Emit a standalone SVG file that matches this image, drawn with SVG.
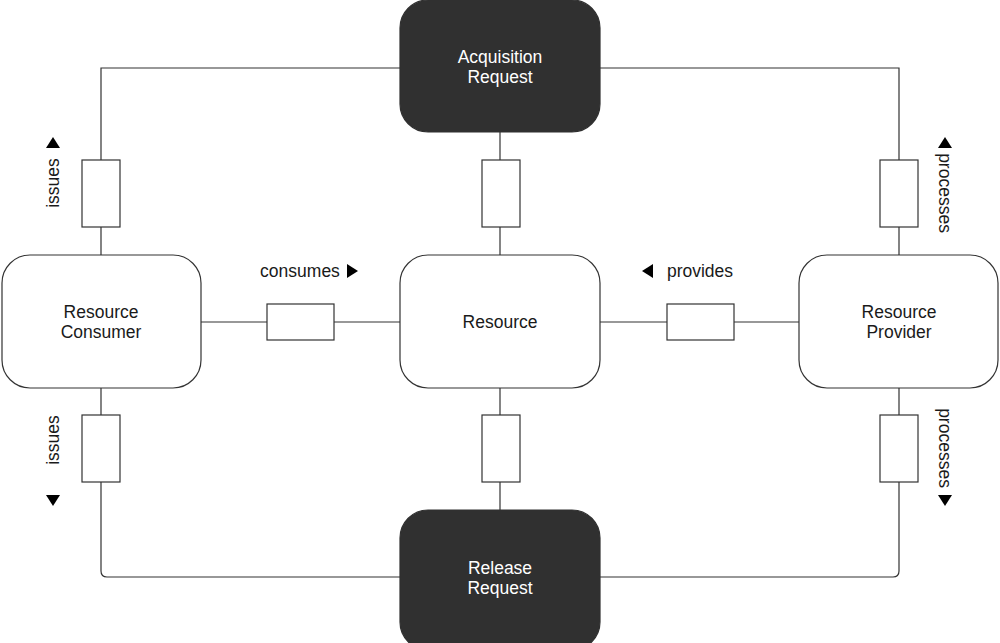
<svg xmlns="http://www.w3.org/2000/svg" width="1000" height="643" viewBox="0 0 1000 643">
<style>
.node{fill:#fff;stroke:#333;stroke-width:1.2}
.dark{fill:#303030;stroke:#303030;stroke-width:1.2}
.port{fill:#fff;stroke:#333;stroke-width:1.2}
.ln{fill:none;stroke:#333;stroke-width:1.2}
.t{font-family:"Liberation Sans",Arial,sans-serif;font-size:17.5px;fill:#1a1a1a;text-anchor:middle;dominant-baseline:central}
.tw{fill:#fff}
.tri{fill:#000}
</style>
<rect width="1000" height="643" fill="#fff"/>
<g id="connectors">
<path class="ln" d="M400,68 H101 V255"/>
<path class="ln" d="M600,68 H899 V255"/>
<path class="ln" d="M500,132 V255"/>
<path class="ln" d="M101,388 V571 Q101,577 107,577 H400"/>
<path class="ln" d="M899,388 V571 Q899,577 893,577 H600"/>
<path class="ln" d="M500,388 V510"/>
<path class="ln" d="M201,322 H400"/>
<path class="ln" d="M600,322 H799"/>
<rect class="port" x="82" y="160" width="38" height="67"/>
<rect class="port" x="482" y="160" width="38" height="67"/>
<rect class="port" x="880" y="160" width="38" height="67"/>
<rect class="port" x="82" y="415" width="38" height="67"/>
<rect class="port" x="482" y="415" width="38" height="67"/>
<rect class="port" x="880" y="415" width="38" height="67"/>
<rect class="port" x="267" y="304" width="67" height="36"/>
<rect class="port" x="667" y="304" width="67" height="36"/>
<text class="t" transform="translate(53,183) rotate(-90)">issues</text>
<polygon class="tri" points="46,148 60,148 53,137"/>
<text class="t" transform="translate(53,440) rotate(-90)">issues</text>
<polygon class="tri" points="46,495 60,495 53,506"/>
<text class="t" transform="translate(945,193) rotate(90)">processes</text>
<polygon class="tri" points="938,148 952,148 945,137"/>
<text class="t" transform="translate(945,448) rotate(90)">processes</text>
<polygon class="tri" points="938,495 952,495 945,506"/>
<text class="t" x="300" y="271">consumes</text>
<polygon class="tri" points="347,264 347,278 358,271"/>
<text class="t" x="700" y="271">provides</text>
<polygon class="tri" points="653,264 653,278 642,271"/>
</g>
<g id="acquisition-request">
<rect class="dark" x="400" y="0" width="200" height="132" rx="28"/>
<text class="t tw" x="500" y="57">Acquisition</text>
<text class="t tw" x="500" y="77">Request</text>
</g>
<g id="release-request">
<rect class="dark" x="400" y="510" width="200" height="140" rx="28"/>
<text class="t tw" x="500" y="568">Release</text>
<text class="t tw" x="500" y="588">Request</text>
</g>
<g id="resource-consumer">
<rect class="node" x="2" y="255" width="199" height="133" rx="28"/>
<text class="t" x="101" y="312">Resource</text>
<text class="t" x="101" y="332">Consumer</text>
</g>
<g id="resource">
<rect class="node" x="400" y="255" width="200" height="133" rx="28"/>
<text class="t" x="500" y="322">Resource</text>
</g>
<g id="resource-provider">
<rect class="node" x="799" y="255" width="199" height="133" rx="28"/>
<text class="t" x="899" y="312">Resource</text>
<text class="t" x="899" y="332">Provider</text>
</g>
</svg>
